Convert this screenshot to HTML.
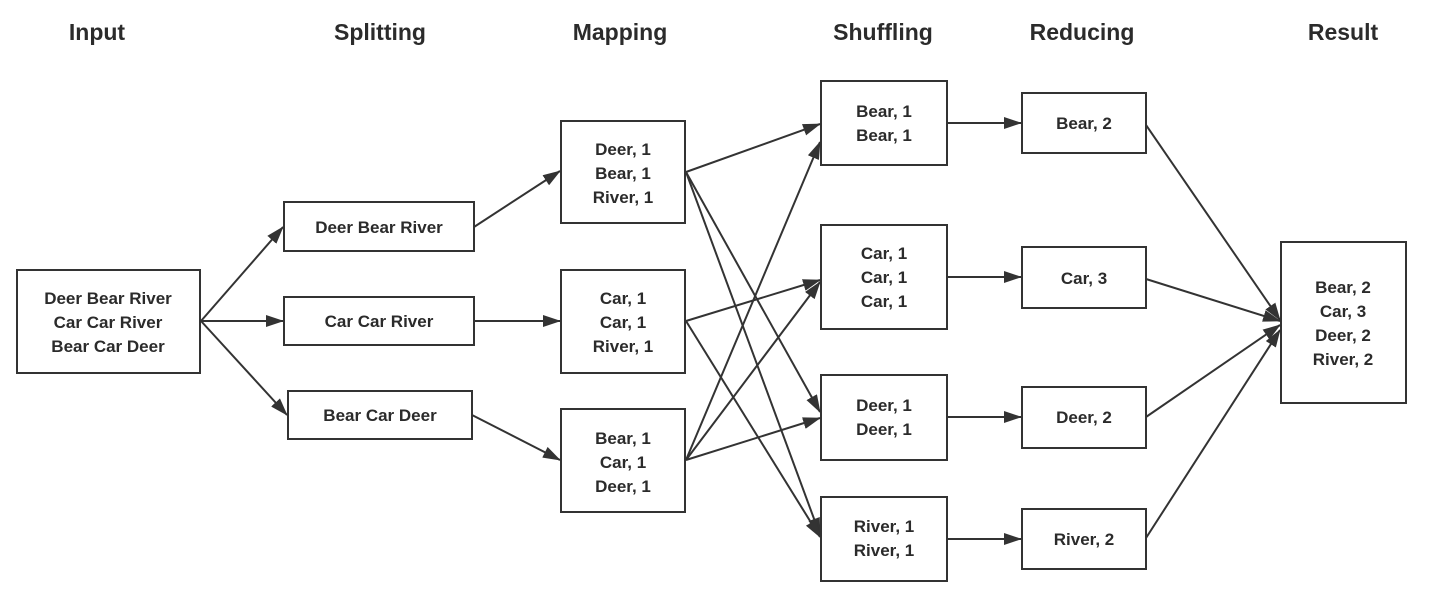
<!DOCTYPE html>
<html><head><meta charset="utf-8"><style>
html,body{margin:0;padding:0;background:#fff;}
svg text{font-family:"Liberation Sans","DejaVu Sans",sans-serif;font-weight:bold;fill:#2b2b2b;}
</style></head><body>
<svg width="1434" height="585" viewBox="0 0 1434 585" xmlns="http://www.w3.org/2000/svg">
<defs><marker id="a" markerWidth="18" markerHeight="12" refX="17" refY="6" orient="auto" markerUnits="userSpaceOnUse"><path d="M0,0 L18,6 L0,12 z" fill="#333"/></marker></defs>
<g font-size="23" text-anchor="middle">
<text x="97" y="40">Input</text><text x="380" y="40">Splitting</text><text x="620" y="40">Mapping</text>
<text x="883" y="40">Shuffling</text><text x="1082" y="40">Reducing</text><text x="1343" y="40">Result</text>
</g>
<g fill="#fff" stroke="#333" stroke-width="2">
<rect x="17" y="270" width="183" height="103"/>
<rect x="284" y="202" width="190" height="49"/>
<rect x="284" y="297" width="190" height="48"/>
<rect x="288" y="391" width="184" height="48"/>
<rect x="561" y="121" width="124" height="102"/>
<rect x="561" y="270" width="124" height="103"/>
<rect x="561" y="409" width="124" height="103"/>
<rect x="821" y="81" width="126" height="84"/>
<rect x="821" y="225" width="126" height="104"/>
<rect x="821" y="375" width="126" height="85"/>
<rect x="821" y="497" width="126" height="84"/>
<rect x="1022" y="93" width="124" height="60"/>
<rect x="1022" y="247" width="124" height="61"/>
<rect x="1022" y="387" width="124" height="61"/>
<rect x="1022" y="509" width="124" height="60"/>
<rect x="1281" y="242" width="125" height="161"/>
</g>
<g stroke="#333" stroke-width="2" fill="none" marker-end="url(#a)">
<line x1="201" y1="321" x2="283" y2="227"/>
<line x1="201" y1="321" x2="283" y2="321"/>
<line x1="201" y1="321" x2="287" y2="415"/>
<line x1="474" y1="227" x2="560" y2="171"/>
<line x1="474" y1="321" x2="560" y2="321"/>
<line x1="472" y1="415" x2="560" y2="460"/>
<line x1="686" y1="172" x2="820" y2="124"/>
<line x1="686" y1="172" x2="820" y2="412"/>
<line x1="686" y1="172" x2="820" y2="535"/>
<line x1="686" y1="321" x2="820" y2="280"/>
<line x1="686" y1="321" x2="820" y2="537"/>
<line x1="686" y1="460" x2="820" y2="142"/>
<line x1="686" y1="460" x2="820" y2="282"/>
<line x1="686" y1="460" x2="820" y2="418"/>
<line x1="947" y1="123" x2="1021" y2="123"/>
<line x1="947" y1="277" x2="1021" y2="277"/>
<line x1="947" y1="417" x2="1021" y2="417"/>
<line x1="947" y1="539" x2="1021" y2="539"/>
<line x1="1146" y1="125" x2="1280" y2="320"/>
<line x1="1146" y1="279" x2="1280" y2="321"/>
<line x1="1146" y1="417" x2="1280" y2="325"/>
<line x1="1146" y1="538" x2="1280" y2="330"/>
</g>
<g font-size="17" text-anchor="middle">
<text x="108" y="304">Deer Bear River</text><text x="108" y="328">Car Car River</text><text x="108" y="352">Bear Car Deer</text>
<text x="379" y="233">Deer Bear River</text>
<text x="379" y="327">Car Car River</text>
<text x="380" y="421">Bear Car Deer</text>
<text x="623" y="155">Deer, 1</text><text x="623" y="179">Bear, 1</text><text x="623" y="203">River, 1</text>
<text x="623" y="304">Car, 1</text><text x="623" y="328">Car, 1</text><text x="623" y="352">River, 1</text>
<text x="623" y="444">Bear, 1</text><text x="623" y="468">Car, 1</text><text x="623" y="492">Deer, 1</text>
<text x="884" y="117">Bear, 1</text><text x="884" y="141">Bear, 1</text>
<text x="884" y="259">Car, 1</text><text x="884" y="283">Car, 1</text><text x="884" y="307">Car, 1</text>
<text x="884" y="411">Deer, 1</text><text x="884" y="435">Deer, 1</text>
<text x="884" y="532">River, 1</text><text x="884" y="556">River, 1</text>
<text x="1084" y="129">Bear, 2</text>
<text x="1084" y="284">Car, 3</text>
<text x="1084" y="423">Deer, 2</text>
<text x="1084" y="545">River, 2</text>
<text x="1343" y="293">Bear, 2</text><text x="1343" y="317">Car, 3</text><text x="1343" y="341">Deer, 2</text><text x="1343" y="365">River, 2</text>
</g>
</svg>
</body></html>
